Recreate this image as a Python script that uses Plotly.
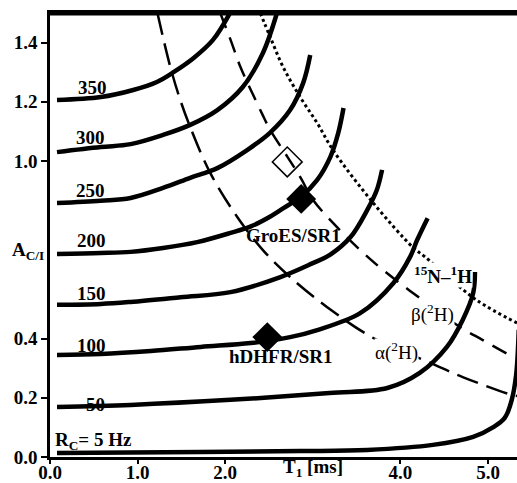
import plotly.graph_objects as go

# ---- data ----
rc_values = [350, 300, 250, 200, 150, 100, 50, 5]

t_350 = [0.08, 0.58, 0.95, 1.22, 1.41, 1.64, 1.86, 2.06]
a_350 = [1.206, 1.216, 1.24, 1.267, 1.30, 1.348, 1.409, 1.503]

t_300 = [0.08, 0.58, 0.92, 1.29, 1.60, 1.91, 2.20, 2.43, 2.59]
a_300 = [1.030, 1.047, 1.057, 1.088, 1.122, 1.172, 1.25, 1.365, 1.50]

t_250 = [0.08, 0.58, 0.92, 1.29, 1.60, 1.91, 2.25, 2.51, 2.74, 2.89, 2.97]
a_250 = [0.858, 0.866, 0.875, 0.909, 0.943, 0.976, 1.037, 1.095, 1.172, 1.264, 1.358]

t_200 = [0.08, 0.58, 0.92, 1.29, 1.68, 2.06, 2.30, 2.50, 2.66, 2.86, 3.05, 3.20, 3.29, 3.35]
a_200 = [0.686, 0.689, 0.693, 0.706, 0.726, 0.757, 0.78, 0.81, 0.84, 0.878, 0.936, 1.014, 1.095, 1.179]

t_150 = [0.08, 0.58, 0.92, 1.49, 2.06, 2.63, 3.00, 3.19, 3.43, 3.62, 3.73, 3.79]
a_150 = [0.514, 0.517, 0.524, 0.54, 0.557, 0.608, 0.655, 0.682, 0.743, 0.834, 0.902, 0.970]

t_100 = [0.08, 0.58, 1.15, 1.72, 2.29, 2.74, 3.05, 3.54, 3.92, 4.11, 4.19, 4.31]
a_100 = [0.345, 0.348, 0.358, 0.372, 0.385, 0.405, 0.429, 0.486, 0.588, 0.676, 0.733, 0.807]

t_50 = [0.08, 0.92, 2.06, 3.19, 3.85, 4.22, 4.53, 4.71, 4.83, 4.85]
a_50 = [0.169, 0.176, 0.193, 0.216, 0.233, 0.284, 0.372, 0.463, 0.554, 0.625]

t_5 = [0.08, 1.72, 2.86, 3.62, 4.37, 4.83, 5.06, 5.19, 5.27, 5.32, 5.35]
a_5 = [0.0135, 0.017, 0.020, 0.024, 0.041, 0.068, 0.101, 0.132, 0.193, 0.277, 0.43]

t_alpha = [1.226, 1.373, 1.487, 1.60, 1.83, 2.137, 2.43, 2.74, 3.16, 3.69, 4.34, 4.71, 5.28, 5.33]
a_alpha = [1.50, 1.318, 1.206, 1.115, 0.959, 0.811, 0.699, 0.608, 0.507, 0.402, 0.318, 0.270, 0.209, 0.206]

t_beta = [1.943, 2.06, 2.17, 2.30, 2.42, 2.513, 2.71, 2.855, 3.003, 3.23, 3.54, 3.80, 4.22, 4.68, 4.94, 5.28]
a_beta = [1.50, 1.41, 1.32, 1.235, 1.16, 1.105, 1.014, 0.946, 0.868, 0.791, 0.699, 0.632, 0.537, 0.439, 0.395, 0.338]

t_nh = [2.40, 2.513, 2.66, 2.855, 3.05, 3.23, 3.69, 4.14, 4.28, 4.87, 5.33]
a_nh = [1.50, 1.419, 1.318, 1.216, 1.128, 1.037, 0.858, 0.709, 0.676, 0.530, 0.453]

# experimental points
groes_t = [2.708, 2.867]
groes_a = [0.997, 0.872]
hdhfr_t = [2.48]
hdhfr_a = [0.405]

x_tickvals = [0.0, 1.0, 2.0, 4.0, 5.0]
x_ticktext = ["0.0", "1.0", "2.0", "4.0", "5.0"]
y_tickvals = [0.0, 0.2, 0.4, 1.0, 1.2, 1.4]
y_ticktext = ["0.0", "0.2", "0.4", "1.0", "1.2", "1.4"]

FONT = "Liberation Serif"
FS = 19

fig = go.Figure()

solid = [(t_350, a_350), (t_300, a_300), (t_250, a_250), (t_200, a_200),
         (t_150, a_150), (t_100, a_100), (t_50, a_50), (t_5, a_5)]
for (t, a), rc in zip(solid, rc_values):
    fig.add_trace(go.Scatter(x=t, y=a, mode="lines", name=f"R_C={rc}",
                             line=dict(color="black", width=4.5, shape="spline", smoothing=1.0),
                             showlegend=False, hoverinfo="skip"))

fig.add_trace(go.Scatter(x=t_alpha, y=a_alpha, mode="lines", showlegend=False,
                         line=dict(color="black", width=2.5, dash="22px,9px", shape="spline")))
fig.add_trace(go.Scatter(x=t_beta, y=a_beta, mode="lines", showlegend=False,
                         line=dict(color="black", width=2.5, dash="16px,10px", shape="spline")))
fig.add_trace(go.Scatter(x=t_nh, y=a_nh, mode="lines", showlegend=False,
                         line=dict(color="black", width=3, dash="3px,3px", shape="spline")))

fig.add_trace(go.Scatter(x=[groes_t[0]], y=[groes_a[0]], mode="markers", showlegend=False,
                         marker=dict(symbol="diamond-open", size=23, color="black",
                                     line=dict(width=1.5, color="black"))))
fig.add_trace(go.Scatter(x=[groes_t[1]], y=[groes_a[1]], mode="markers", showlegend=False,
                         marker=dict(symbol="diamond", size=23, color="black")))
fig.add_trace(go.Scatter(x=hdhfr_t, y=hdhfr_a, mode="markers", showlegend=False,
                         marker=dict(symbol="diamond", size=23, color="black")))

# curve labels
label_t = [0.485, 0.46, 0.46, 0.47, 0.47, 0.47, 0.52]
label_a = [1.25, 1.078, 0.899, 0.730, 0.554, 0.378, 0.176]
bold = dict(family=FONT, size=FS, color="black", weight="bold")
regular = dict(family=FONT, size=FS, color="black")
for rc, lt, la in zip(rc_values[:7], label_t, label_a):
    fig.add_annotation(x=lt, y=la, text=str(rc), showarrow=False, font=bold)

fig.add_annotation(x=0.03, y=0.054, xanchor="left", text="R<sub>C</sub>= 5 Hz",
                   showarrow=False, font=bold)
fig.add_annotation(x=2.776, y=0.75, text="GroES/SR1", showarrow=False, font=bold)
fig.add_annotation(x=2.627, y=0.341, text="hDHFR/SR1", showarrow=False, font=bold)
fig.add_annotation(x=4.486, y=0.615, text="<sup>15</sup>N\u2013<sup>1</sup>H", showarrow=False,
                   font=bold, bgcolor="white", borderpad=0)
fig.add_annotation(x=4.36, y=0.486, text="\u03b2(<sup>2</sup>H)", showarrow=False,
                   font=regular, bgcolor="white", borderpad=0)
fig.add_annotation(x=3.95, y=0.358, text="\u03b1(<sup>2</sup>H)", showarrow=False,
                   font=regular, bgcolor="white", borderpad=0)

# axis titles placed in the gaps of the tick labels
fig.add_annotation(x=3.0, y=0, yref="y", yanchor="top", yshift=3, text="T<sub>1</sub> [ms]",
                   showarrow=False, font=bold)
fig.add_annotation(x=0, xref="paper", xanchor="right", xshift=-4, y=0.695,
                   text="A<sub>C/I</sub>", showarrow=False, font=bold)

# top frame line
fig.add_shape(type="line", xref="x", yref="y", x0=0, x1=5.33, y0=1.497, y1=1.497,
              line=dict(color="black", width=3), layer="above")

fig.update_xaxes(range=[0, 5.33], showgrid=False, zeroline=False, showline=True,
                 linecolor="black", linewidth=2.5, mirror=True, automargin=False,
                 ticks="outside", ticklen=4, tickwidth=2, tickcolor="black",
                 ticklabelstandoff=-8,
                 tickvals=x_tickvals, ticktext=x_ticktext,
                 tickfont=dict(family=FONT, size=FS, color="black", weight="bold"))
fig.update_yaxes(range=[0, 1.5], showgrid=False, zeroline=False, showline=True,
                 linecolor="black", linewidth=2.5, automargin=False,
                 ticks="outside", ticklen=6, tickwidth=2, tickcolor="black",
                 tickvals=y_tickvals, ticktext=y_ticktext,
                 tickfont=dict(family=FONT, size=FS, color="black", weight="bold"))

fig.update_layout(width=517, height=483, margin=dict(l=50, r=0, t=13, b=26),
                  plot_bgcolor="white", paper_bgcolor="white", showlegend=False)

fig.write_html("out.html", config={"displayModeBar": False},
               post_script="document.body.style.margin='0px';document.body.style.overflow='hidden';")
